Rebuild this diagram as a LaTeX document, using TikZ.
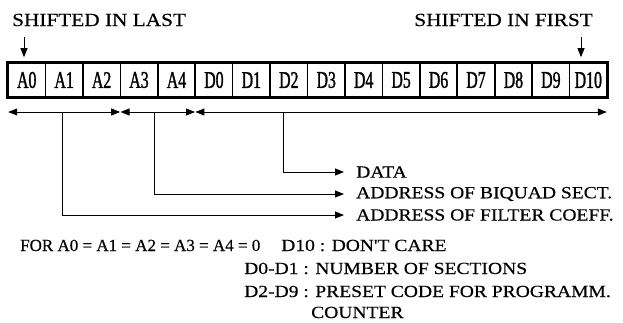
\documentclass[tikz,border=0pt]{standalone}
\usepackage{fontspec}
\setmainfont{Liberation Serif}
\newfontfamily\widefont[FakeStretch=1.15,FakeBold=0.4]{Liberation Serif}
\newfontfamily\plainfont[FakeBold=0.4]{Liberation Serif}
\newfontfamily\cellfont[FakeStretch=0.66,FakeBold=1.2]{Liberation Serif}
\usetikzlibrary{arrows.meta}
\begin{document}
\begin{tikzpicture}[x=1pt,y=-1pt,
  txt/.style={font=\widefont\fontsize{17}{20}\selectfont, inner sep=0pt},
  ttl/.style={font=\widefont\fontsize{18.5}{22}\selectfont, inner sep=0pt},
  cell/.style={draw, line width=1.6pt, minimum width=37.44pt, minimum height=34pt,
    inner sep=0pt, font=\cellfont\fontsize{24}{26}\selectfont},
  arr/.style={line width=0.9pt, -{Triangle[length=9pt,width=7pt]}},
  darr/.style={line width=0.9pt, {Triangle[length=9pt,width=7pt]}-{Triangle[length=9pt,width=7pt]}}
]
\useasboundingbox (0,0) rectangle (623,322);
% titles
\node[ttl, anchor=base west] (tLast) at (12,26) {SHIFTED IN LAST};
\node[ttl, anchor=base east] (tFirst) at (593,26) {SHIFTED IN FIRST};
% register cells
\foreach \lab [count=\i from 0] in {A0,A1,A2,A3,A4,D0,D1,D2,D3,D4,D5,D6,D7,D8,D9,D10}{
  \node[cell] (c\i) at ({8+18.72+37.44*\i},80) {\lab};
}
\draw[line width=2pt] (c0.north west) rectangle (c15.south east);
% shift arrows
\coordinate (sL) at (24,37);
\coordinate (sF) at (581,37);
\draw[arr, shorten >=5pt] (sL) -- (sL |- c0.north);
\draw[arr, shorten >=5pt] (sF) -- (sF |- c15.north);
% field arrows
\coordinate (g1a) at (c0.west |- 0,112);
\coordinate (g1b) at (c2.east |- 0,112);
\coordinate (g2a) at (c3.west |- 0,112);
\coordinate (g2b) at (c4.east |- 0,112);
\coordinate (g3a) at (c5.west |- 0,112);
\coordinate (g3b) at (c15.east |- 0,112);
\draw[darr, shorten <=1pt, shorten >=1pt] (g1a) -- (g1b);
\draw[darr, shorten <=1pt, shorten >=1pt] (g2a) -- (g2b);
\draw[darr, shorten <=1pt, shorten >=1pt] (g3a) -- (g3b);
% labels
\node[txt, anchor=west] (lData) at (356,172) {DATA};
\node[txt, anchor=west] (lBiq) at (356,194) {ADDRESS OF BIQUAD SECT.};
\node[txt, anchor=west] (lFil) at (356,215) {ADDRESS OF FILTER COEFF.};
\coordinate (d1) at (62,112);
\coordinate (d2) at (154,112);
\coordinate (d3) at (283,112);
\draw[arr, shorten >=12pt] (d3) |- (lData.west);
\draw[arr, shorten >=12pt] (d2) |- (lBiq.west);
\draw[arr, shorten >=12pt] (d1) |- (lFil.west);
% notes
\node[txt, font=\plainfont\fontsize{17}{20}\selectfont, anchor=base west] (nFor) at (20,251) {FOR A0 = A1 = A2 = A3 = A4 = 0};
\node[txt, anchor=base west] (nD10) at (281,251) {D10 : DON'T CARE};
\node[txt, anchor=base west] (nD0) at (244,274) {D0-D1 : NUMBER OF SECTIONS};
\node[txt, anchor=base west] (nD2) at (244,297) {D2-D9 : PRESET CODE FOR PROGRAMM.};
\node[txt, anchor=base west] (nCnt) at (311,318) {COUNTER};
\end{tikzpicture}
\end{document}
